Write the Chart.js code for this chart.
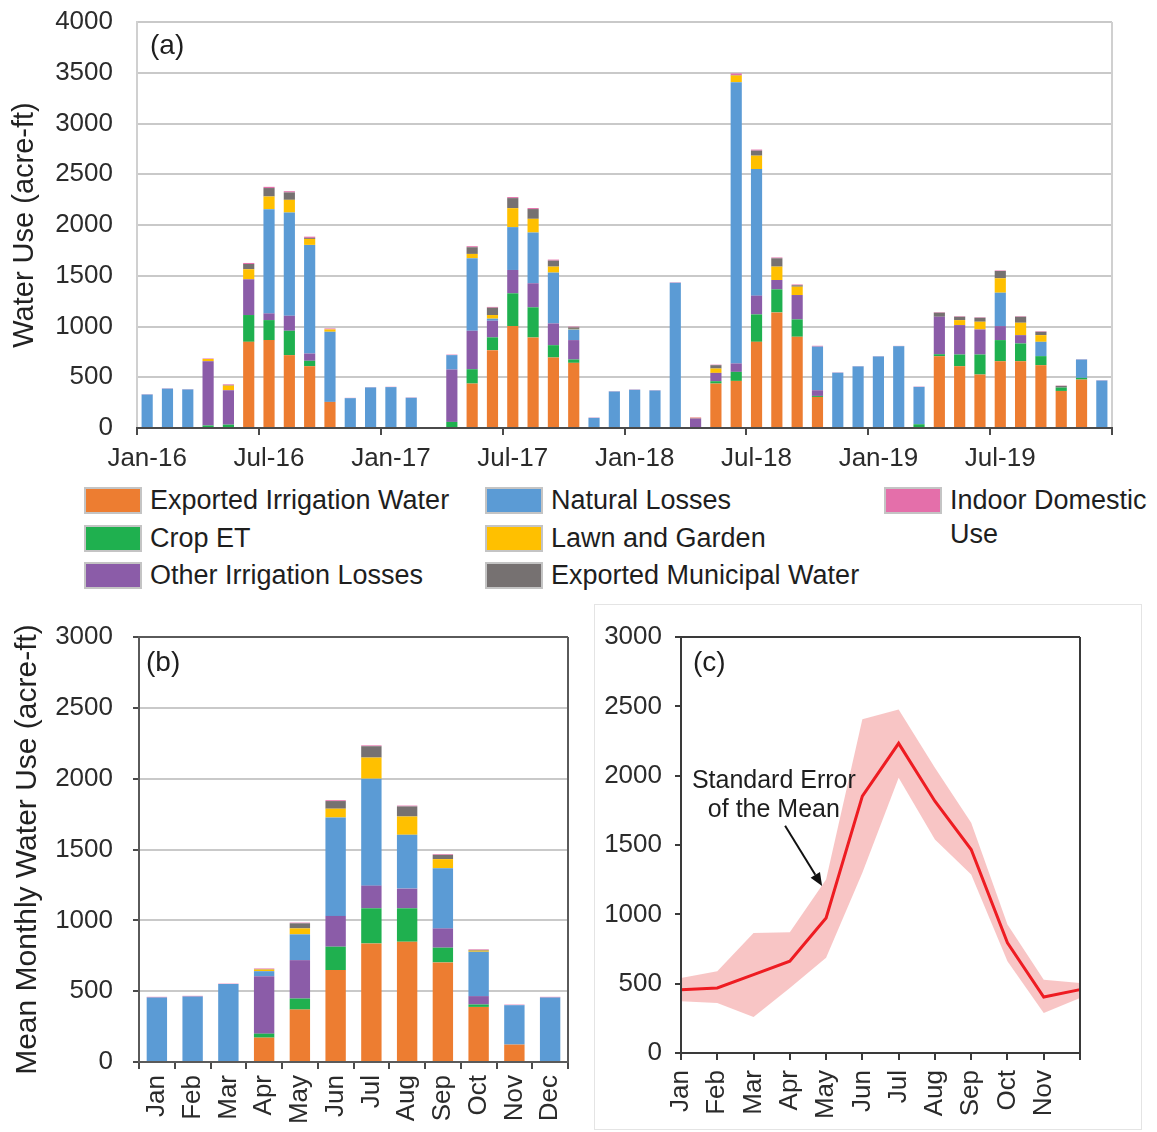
<!DOCTYPE html>
<html>
<head>
<meta charset="utf-8">
<title>Water Use</title>
<script src="https://cdn.jsdelivr.net/npm/chart.js@4.4.1/dist/chart.umd.min.js"></script>
<style>
  html, body { margin: 0; padding: 0; background: #fff; }
  body { position: relative; width: 1157px; height: 1132px; overflow: hidden;
         font-family: "Liberation Sans", Arial, sans-serif; color: #222; }
  canvas { position: absolute; }
  #boxC { position: absolute; left: 594px; top: 604px; width: 548px; height: 526px;
          border: 1px solid #e4e4e4; box-sizing: border-box; }
  #legend { position: absolute; left: 84px; top: 484px; display: grid;
            grid-template-columns: 401px 399px 280px; grid-template-rows: repeat(3, 37.5px);
            grid-auto-flow: column; }
  .lg { display: flex; align-items: flex-start; }
  .lg i { display: block; flex: none; width: 54px; height: 23px; margin-top: 3px;
          border: 2px solid #c4c4c4; }
  .lg span { margin-left: 8px; font-size: 27px; line-height: 34px; margin-top: -1px;
             color: #1e1e1e; white-space: normal; }
  .lg:nth-child(7) span { width: 228px; }
</style>
</head>
<body>
<div id="boxC"></div>
<canvas id="chartA" width="1157" height="480" style="left:0;top:0"></canvas>
<div id="legend"></div>
<canvas id="chartB" width="590" height="532" style="left:0;top:600px"></canvas>
<canvas id="chartC" width="567" height="532" style="left:590px;top:600px"></canvas>

<script>
// ---- categories ----
const MONTHS = ['Jan', 'Feb', 'Mar', 'Apr', 'May', 'Jun', 'Jul', 'Aug', 'Sep', 'Oct', 'Nov', 'Dec'];
const YEARS = ['16', '17', '18', '19'];
const monthYearLabels = YEARS.flatMap(y => MONTHS.map(m => m + '-' + y));

// ---- water-use components (acre-ft) ----
const seriesNames = ['Exported Irrigation Water', 'Crop ET', 'Other Irrigation Losses',
                     'Natural Losses', 'Lawn and Garden', 'Exported Municipal Water', 'Indoor Domestic Use'];
const seriesColors = ['#ED7D31', '#1FB04F', '#8B5CA8', '#5B9BD5', '#FFC000', '#767171', '#E46FAA'];

// (a) monthly values, Jan-16 .. Dec-19
const exportedIrrigation = [0,0,0,0,0,849,866,718,609,257,0,0,
                            0,0,8,0,438,767,1004,892,695,642,0,0,
                            0,0,0,0,438,464,849,1139,899,306,0,0,
                            0,0,0,707,609,527,658,658,619,365,477,0];
const cropET             = [0,0,0,25,33,264,197,240,53,0,0,0,
                            0,0,0,60,141,126,323,297,121,33,0,0,
                            0,0,0,0,23,89,270,227,171,10,0,0,
                            0,0,37,20,115,197,208,175,89,33,17,0];
const otherIrrigation    = [0,0,0,633,339,352,66,148,72,0,0,0,
                            0,0,0,516,379,164,230,237,214,191,0,0,
                            0,0,0,95,82,83,185,92,240,56,0,0,
                            0,0,0,369,290,247,138,82,0,0,0,0];
const naturalLosses      = [330,388,380,0,0,0,1027,1017,1070,691,294,400,
                            403,298,0,142,714,20,422,500,501,105,100,360,
                            377,370,1432,0,0,2771,1247,0,0,430,545,607,
                            705,806,368,0,0,0,329,0,141,0,181,468];
const lawnGarden         = [0,0,0,22,45,99,125,125,59,23,0,0,
                            0,0,0,0,43,36,187,135,59,5,0,0,
                            0,0,0,5,43,66,132,132,82,0,0,0,
                            0,0,0,0,49,76,142,122,66,0,0,0];
const exportedMunicipal  = [0,0,0,0,5,52,83,73,10,0,0,0,
                            0,0,0,0,66,72,99,96,59,15,0,0,
                            0,0,0,0,33,5,50,82,14,0,0,0,
                            0,0,0,40,33,39,72,59,33,17,0,0];
const indoorDomestic     = [3,3,3,5,8,10,12,12,12,10,3,3,
                            3,3,2,5,10,8,10,10,10,8,3,3,
                            3,3,4,5,5,15,10,8,8,8,3,3,
                            3,3,3,5,5,5,5,5,5,3,3,3];

// (b) mean monthly values
const meanExportedIrrigation = [0,0,0,172,370,649,837,849,703,389,123,0];
const meanCropET             = [0,0,0,28,78,165,248,236,104,17,0,0];
const meanOtherIrrigation    = [0,0,0,406,271,217,160,139,136,59,0,0];
const meanNaturalLosses      = [455,462,550,35,182,695,755,380,425,313,278,455];
const meanLawnGarden         = [0,0,0,12,42,62,149,129,64,8,0,0];
const meanExportedMunicipal  = [0,0,0,3,36,54,80,71,30,5,0,0];
const meanIndoorDomestic     = [5,5,3,4,5,6,6,6,5,4,4,5];

// (c) mean monthly total with standard error band
const meanTotal = [457,469,565,662,974,1852,2233,1816,1467,794,404,457];
const seUpper   = [541,589,866,871,1251,2406,2478,2057,1660,926,529,505];
const seLower   = [373,361,260,469,686,1299,1985,1540,1287,662,289,397];

// y-axis tick ranges
const yTicksA = { min: 0, max: 4000, step: 500 };
const yTicksBC = { min: 0, max: 3000, step: 500 };

const monthlySeries = [exportedIrrigation, cropET, otherIrrigation, naturalLosses,
                       lawnGarden, exportedMunicipal, indoorDomestic];
const meanSeries = [meanExportedIrrigation, meanCropET, meanOtherIrrigation, meanNaturalLosses,
                    meanLawnGarden, meanExportedMunicipal, meanIndoorDomestic];

// ---- shared styling ----
Chart.defaults.font.family = '"Liberation Sans", Arial, sans-serif';
Chart.defaults.color = '#333';
const TEXT = '#2b2b2b';
const GRID = '#c9c9c9';
const AXIS = '#4a4a4a';
const plainNumber = v => String(v);

// frame lines around the plot area
const framePlugin = {
  id: 'frame',
  afterDatasetsDraw(chart, args, o) {
    if (!o || !o.sides) return;
    const { ctx, chartArea: a } = chart;
    ctx.save();
    ctx.strokeStyle = o.color;
    ctx.lineWidth = o.width;
    ctx.beginPath();
    o.sides.forEach(s => {
      if (s === 'top')   { ctx.moveTo(a.left, a.top);  ctx.lineTo(a.right, a.top); }
      if (s === 'right') { ctx.moveTo(a.right, a.top); ctx.lineTo(a.right, a.bottom); }
    });
    ctx.stroke();
    ctx.restore();
  }
};

// panel letter in the upper-left corner of the plot area
const panelTagPlugin = {
  id: 'panelTag',
  afterDraw(chart, args, o) {
    if (!o || !o.text) return;
    const { ctx, chartArea: a } = chart;
    ctx.save();
    ctx.font = '28px "Liberation Sans", Arial, sans-serif';
    ctx.fillStyle = '#1e1e1e';
    ctx.textAlign = 'left';
    ctx.textBaseline = 'top';
    ctx.fillText(o.text, a.left + o.dx, a.top + o.dy);
    ctx.restore();
  }
};

// text note with an arrow, placed in data units
const notePlugin = {
  id: 'note',
  afterDatasetsDraw(chart, args, o) {
    if (!o || !o.lines) return;
    const { ctx, scales: { x, y } } = chart;
    ctx.save();
    ctx.font = '25px "Liberation Sans", Arial, sans-serif';
    ctx.fillStyle = '#1e1e1e';
    ctx.textAlign = 'center';
    ctx.textBaseline = 'middle';
    o.lines.forEach((t, i) => ctx.fillText(t, x.getPixelForValue(o.x), y.getPixelForValue(o.y[i])));
    const x0 = x.getPixelForValue(o.from[0]), y0 = y.getPixelForValue(o.from[1]);
    const x1 = x.getPixelForValue(o.to[0]),   y1 = y.getPixelForValue(o.to[1]);
    const ang = Math.atan2(y1 - y0, x1 - x0);
    const head = 13, half = 5.5;
    ctx.strokeStyle = '#111';
    ctx.lineWidth = 2;
    ctx.beginPath();
    ctx.moveTo(x0, y0);
    ctx.lineTo(x1 - head * Math.cos(ang), y1 - head * Math.sin(ang));
    ctx.stroke();
    ctx.fillStyle = '#111';
    ctx.beginPath();
    ctx.moveTo(x1, y1);
    ctx.lineTo(x1 - head * Math.cos(ang) + half * Math.sin(ang), y1 - head * Math.sin(ang) - half * Math.cos(ang));
    ctx.lineTo(x1 - head * Math.cos(ang) - half * Math.sin(ang), y1 - head * Math.sin(ang) + half * Math.cos(ang));
    ctx.closePath();
    ctx.fill();
    ctx.restore();
  }
};

function stackedSets(values, barPct) {
  return seriesNames.map((name, i) => ({
    label: name,
    data: values[i],
    backgroundColor: seriesColors[i],
    borderWidth: 0,
    stack: 'use',
    barPercentage: barPct,
    categoryPercentage: 1
  }));
}

// ---- (a) monthly water use ----
new Chart(document.getElementById('chartA'), {
  type: 'bar',
  data: { labels: monthYearLabels, datasets: stackedSets(monthlySeries, 0.55) },
  options: {
    responsive: false,
    animation: false,
    layout: { padding: { top: 22, right: 45, left: 0, bottom: 0 }, autoPadding: false },
    plugins: {
      legend: { display: false },
      tooltip: { enabled: false },
      frame: { sides: ['right'], color: '#d0d0d0', width: 2 },
      panelTag: { text: '(a)', dx: 13, dy: 10 }
    },
    scales: {
      x: {
        stacked: true,
        grid: {
          offset: true, drawOnChartArea: false, tickLength: 7, lineWidth: 2,
          tickColor: c => (c.type !== 'tick' || c.index % 6 === 0) ? AXIS : 'rgba(0,0,0,0)'
        },
        border: { color: AXIS, width: 2, z: 1 },
        ticks: {
          autoSkip: false, maxRotation: 0, minRotation: 0, padding: 8,
          font: { size: 26 }, color: TEXT,
          callback: (v, i) => (i % 6 === 0 ? monthYearLabels[i] : '')
        },
        afterFit: s => { s.height = 52; }
      },
      y: {
        stacked: true,
        min: yTicksA.min, max: yTicksA.max,
        ticks: { stepSize: yTicksA.step, padding: 0, font: { size: 26 }, color: TEXT, callback: plainNumber },
        grid: { color: GRID, lineWidth: 2, drawTicks: true, tickLength: 24, tickColor: 'rgba(0,0,0,0)' },
        border: { color: '#d0d0d0', width: 2 },
        title: { display: true, text: 'Water Use (acre-ft)', font: { size: 29 }, color: '#222',
                 padding: { top: 8, bottom: 0 } },
        afterFit: s => { s.width = 137; }
      }
    }
  },
  plugins: [framePlugin, panelTagPlugin]
});

// ---- legend ----
const legendEl = document.getElementById('legend');
seriesNames.forEach((name, i) => {
  const item = document.createElement('div');
  item.className = 'lg';
  const sw = document.createElement('i');
  sw.style.background = seriesColors[i];
  const tx = document.createElement('span');
  tx.textContent = name;
  item.appendChild(sw);
  item.appendChild(tx);
  legendEl.appendChild(item);
});

// ---- (b) mean monthly water use ----
new Chart(document.getElementById('chartB'), {
  type: 'bar',
  data: { labels: MONTHS, datasets: stackedSets(meanSeries, 0.57) },
  options: {
    responsive: false,
    animation: false,
    layout: { padding: { top: 37, right: 22, left: 0, bottom: 0 }, autoPadding: false },
    plugins: {
      legend: { display: false },
      tooltip: { enabled: false },
      frame: { sides: ['top', 'right'], color: '#5a5a5a', width: 2 },
      panelTag: { text: '(b)', dx: 7, dy: 12 }
    },
    scales: {
      x: {
        stacked: true,
        grid: { offset: true, drawOnChartArea: false, tickLength: 7, lineWidth: 2, tickColor: AXIS },
        border: { color: '#5a5a5a', width: 2, z: 1 },
        ticks: { autoSkip: false, maxRotation: 90, minRotation: 90, padding: 6,
                 font: { size: 26 }, color: TEXT },
        afterFit: s => { s.height = 70; }
      },
      y: {
        stacked: true,
        min: yTicksBC.min, max: yTicksBC.max,
        ticks: { stepSize: yTicksBC.step, padding: 20, font: { size: 26 }, color: TEXT, callback: plainNumber },
        grid: { color: GRID, lineWidth: 2, tickLength: 6, tickColor: AXIS },
        border: { color: '#5a5a5a', width: 2, z: 1 },
        title: { display: true, text: 'Mean Monthly Water Use (acre-ft)', font: { size: 30 }, color: '#222',
                 padding: { top: 10, bottom: 0 } },
        afterFit: s => { s.width = 139; }
      }
    }
  },
  plugins: [framePlugin, panelTagPlugin]
});

// ---- (c) mean monthly total with standard error ----
new Chart(document.getElementById('chartC'), {
  type: 'line',
  data: {
    labels: MONTHS,
    datasets: [
      { label: 'Mean', data: meanTotal, borderColor: '#EE1C22', borderWidth: 3,
        pointRadius: 0, fill: false, tension: 0 },
      { label: 'SE upper', data: seUpper, borderWidth: 0, pointRadius: 0,
        backgroundColor: 'rgba(242,140,140,0.5)', fill: '+1', tension: 0 },
      { label: 'SE lower', data: seLower, borderWidth: 0, pointRadius: 0,
        backgroundColor: 'rgba(242,140,140,0.5)', fill: false, tension: 0 }
    ]
  },
  options: {
    responsive: false,
    animation: false,
    layout: { padding: { top: 37, right: 77, left: 0, bottom: 0 }, autoPadding: false },
    plugins: {
      legend: { display: false },
      tooltip: { enabled: false },
      frame: { sides: ['top', 'right'], color: '#3a3a3a', width: 2 },
      panelTag: { text: '(c)', dx: 12, dy: 12 },
      note: { lines: ['Standard Error', 'of the Mean'], x: 2.56, y: [1963, 1754],
              from: [2.87, 1639], to: [3.89, 1205] }
    },
    scales: {
      x: {
        offset: false,
        grid: { offset: false, drawOnChartArea: false, tickLength: 7, lineWidth: 2, tickColor: '#3a3a3a' },
        border: { color: '#3a3a3a', width: 2, z: 1 },
        ticks: { autoSkip: false, maxRotation: 90, minRotation: 90, padding: 10,
                 font: { size: 26 }, color: TEXT,
                 callback: (v, i) => (i < MONTHS.length - 1 ? MONTHS[i] : '') },
        afterFit: s => { s.height = 79; }
      },
      y: {
        min: yTicksBC.min, max: yTicksBC.max,
        ticks: { stepSize: yTicksBC.step, padding: 13, font: { size: 26 }, color: TEXT, callback: plainNumber },
        grid: { drawOnChartArea: false, tickLength: 6, lineWidth: 2, tickColor: '#3a3a3a' },
        border: { color: '#3a3a3a', width: 2, z: 1 },
        afterFit: s => { s.width = 91; }
      }
    }
  },
  plugins: [framePlugin, panelTagPlugin, notePlugin]
});
</script>
</body>
</html>
